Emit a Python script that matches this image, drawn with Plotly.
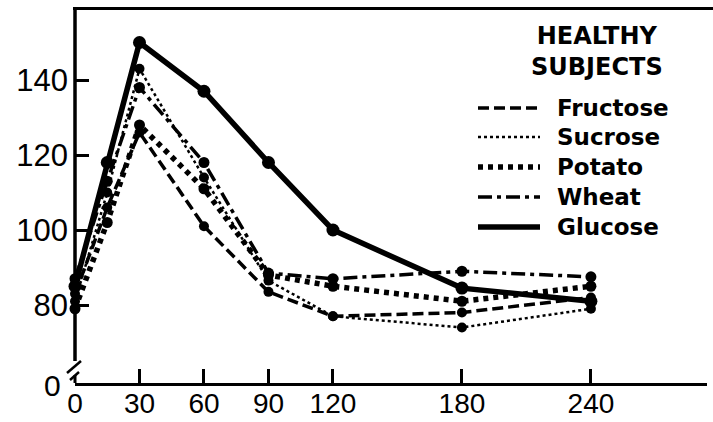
import plotly.graph_objects as go

# ---------------- data ----------------
times = [0, 15, 30, 60, 90, 120, 180, 240]
series_names = ["Fructose", "Sucrose", "Potato", "Wheat", "Glucose"]
fructose = [83, 106, 126, 101, 83.5, 77, 78, 82]
sucrose = [81, 110, 143, 114, 86.5, 77, 74, 79]
potato = [79, 102, 128, 111, 88, 85, 81, 85]
wheat = [87, 113, 138, 118, 88.5, 87, 89, 87.5]
glucose = [85, 118, 150, 137, 118, 100, 84.5, 81]
x_tick_vals = [0, 30, 60, 90, 120, 180, 240]
y_tick_vals = [80, 100, 120, 140]
legend_title = "HEALTHY<br>SUBJECTS"

values = {"Fructose": fructose, "Sucrose": sucrose, "Potato": potato,
          "Wheat": wheat, "Glucose": glucose}

# ---------------- styles ----------------
styles = {
    "Fructose": dict(dash="11px,5px", width=3.5, msize=10),
    "Sucrose": dict(dash="3px,3px", width=2.5, msize=10),
    "Potato": dict(dash="5px,5px", width=5.5, msize=11),
    "Wheat": dict(dash="14px,5px,4px,5px", width=3.5, msize=11),
    "Glucose": dict(dash="solid", width=5.5, msize=13),
}

W, H = 713, 422
ML, MR, MT, MB = 75, 6, 8, 39
PW, PH = W - ML - MR, H - MT - MB


def px(xp):
    return (xp - ML) / PW


def py(yp):
    return (H - MB - yp) / PH


fig = go.Figure()
for name in series_names:
    st = styles[name]
    fig.add_trace(go.Scatter(
        x=times, y=values[name], mode="lines+markers", name=name,
        line=dict(color="black", width=st["width"], dash=st["dash"]),
        marker=dict(color="black", size=st["msize"]),
        cliponaxis=False, showlegend=False,
    ))

shapes = []
# top border
shapes.append(dict(type="line", xref="paper", yref="paper", x0=px(73), x1=px(713),
                   y0=py(8.5), y1=py(8.5), line=dict(color="black", width=3)))
# y axis line with break
shapes.append(dict(type="line", xref="paper", yref="paper", x0=0, x1=0,
                   y0=py(361), y1=py(7), line=dict(color="black", width=3.5)))
shapes.append(dict(type="line", xref="paper", yref="paper", x0=px(67), x1=px(81),
                   y0=py(373), y1=py(361), line=dict(color="black", width=2.5)))
shapes.append(dict(type="line", xref="paper", yref="paper", x0=px(70), x1=px(79),
                   y0=py(380), y1=py(372), line=dict(color="black", width=2.5)))
shapes.append(dict(type="line", xref="paper", yref="paper", x0=0, x1=0,
                   y0=py(383), y1=py(375), line=dict(color="black", width=3)))

# manual legend
row_y = [108, 137, 167, 197, 227]
annotations = []
for name, ry in zip(series_names, row_y):
    st = styles[name]
    shapes.append(dict(type="line", xref="paper", yref="paper", x0=px(478), x1=px(540),
                       y0=py(ry), y1=py(ry),
                       line=dict(color="black", width=st["width"], dash=st["dash"])))
    annotations.append(dict(x=px(555), y=py(ry), xref="paper", yref="paper",
                            text="<b>" + name + "</b>", showarrow=False,
                            xanchor="left", yanchor="middle",
                            font=dict(family="DejaVu Sans", size=23, color="black")))
annotations.append(dict(x=px(597), y=py(51), xref="paper", yref="paper",
                        text="<b>" + legend_title.replace("<br>", "</b><br><b>") + "</b>",
                        showarrow=False, xanchor="center", yanchor="middle",
                        font=dict(family="DejaVu Sans", size=24, color="black")))
# "0" label at broken axis
annotations.append(dict(x=0, y=py(385), xref="paper", yref="paper", text="0", showarrow=False,
                        xanchor="right", yanchor="middle", xshift=-12,
                        font=dict(family="Liberation Sans, Arial", size=30, color="black")))

fig.update_layout(
    width=W, height=H,
    margin=dict(l=ML, r=MR, t=MT, b=MB, pad=0),
    paper_bgcolor="white", plot_bgcolor="white",
    shapes=shapes, annotations=annotations,
    xaxis=dict(range=[0, 294], tickvals=x_tick_vals, ticktext=[str(v) for v in x_tick_vals],
               ticks="inside", ticklen=14, tickwidth=2.5, tickcolor="black",
               showline=True, linewidth=3, linecolor="black", automargin=False,
               showgrid=False, zeroline=False, ticklabelstandoff=-7,
               tickfont=dict(family="Liberation Sans, Arial", size=28, color="black")),
    yaxis=dict(range=[59.2, 159.2], tickvals=y_tick_vals, ticktext=[str(v) for v in y_tick_vals],
               ticks="inside", ticklen=14, tickwidth=2.5, tickcolor="black", automargin=False,
               showline=False, showgrid=False, zeroline=False, ticklabelstandoff=6,
               tickfont=dict(family="Liberation Sans, Arial", size=31, color="black")),
)

fig.write_html("out.html")
